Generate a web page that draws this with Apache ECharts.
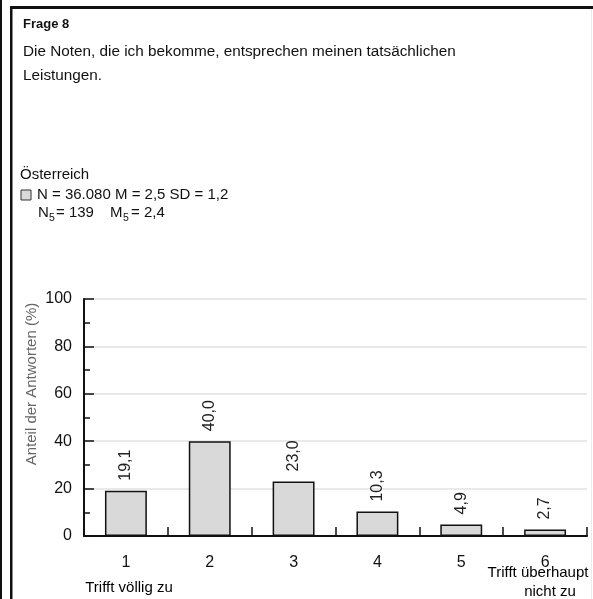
<!DOCTYPE html>
<html>
<head>
<meta charset="utf-8">
<script src="https://cdn.jsdelivr.net/npm/echarts@6/dist/echarts.min.js"></script>
<style>html,body{margin:0;padding:0;background:#fff;}#c{width:593px;height:599px;}</style>
</head>
<body>
<div id="c"></div>
<script>
var categories = ['1', '2', '3', '4', '5', '6'];
var values = [19.1, 40.0, 23.0, 10.3, 4.9, 2.7];
var yTicks = [0, 20, 40, 60, 80, 100];
var titleText = 'Frage 8';
var questionLines = ['Die Noten, die ich bekomme, entsprechen meinen tatsächlichen', 'Leistungen.'];
var countryText = 'Österreich';
var statsText = 'N = 36.080 M = 2,5 SD = 1,2';
var yName = 'Anteil der Antworten (%)';
var leftAnchor = 'Trifft völlig zu';
var rightAnchor = ['Trifft überhaupt', 'nicht zu'];

var FONT = '"Liberation Sans", Arial, sans-serif';
var chart = echarts.init(document.getElementById('c'), null, {renderer: 'canvas'});

function txt(x, y, text, size, opts) {
  opts = opts || {};
  return {
    type: 'text', x: x, y: y, rotation: opts.rotation || 0, z: 10,
    style: {
      text: text, fill: opts.color || '#111',
      font: (opts.weight || 'normal') + ' ' + size + 'px ' + FONT,
      textAlign: opts.align || 'left', textVerticalAlign: 'middle'
    }
  };
}

var option = {
  animation: false,
  backgroundColor: '#fff',
  grid: {left: 84, right: 6, top: 299, bottom: 63, containLabel: false},
  xAxis: {
    type: 'category',
    data: categories,
    axisLine: {lineStyle: {color: '#111', width: 2}},
    axisTick: {show: true, inside: true, length: 9, alignWithLabel: false, lineStyle: {color: '#111', width: 1.5}},
    axisLabel: {margin: 19, fontSize: 16, color: '#111', fontFamily: FONT},
    splitLine: {show: false}
  },
  yAxis: {
    type: 'value',
    min: yTicks[0], max: yTicks[yTicks.length - 1], interval: 20,
    axisLine: {show: true, lineStyle: {color: '#111', width: 2}},
    axisTick: {show: true, inside: true, length: 10, lineStyle: {color: '#111', width: 1.5}},
    minorTick: {show: true, splitNumber: 2, length: 6, lineStyle: {color: '#111', width: 1.5}},
    axisLabel: {margin: 12, fontSize: 16, color: '#111', fontFamily: FONT},
    splitLine: {show: true, lineStyle: {color: '#e2e2e2', width: 1.5}}
  },
  series: [{
    type: 'bar',
    data: values,
    barWidth: '50%',
    itemStyle: {color: '#d9d9d9', borderColor: '#111', borderWidth: 1.5},
    label: {
      show: true, position: 'top', rotate: 90, distance: 10,
      align: 'left', verticalAlign: 'middle',
      fontSize: 16, color: '#222', fontFamily: FONT,
      formatter: function (p) { return p.value.toFixed(1).replace('.', ','); }
    }
  }],
  graphic: [
    // frame
    {type: 'rect', shape: {x: 0, y: 0, width: 2, height: 599}, style: {fill: '#111'}},
    {type: 'rect', shape: {x: 10, y: 6, width: 2.5, height: 593}, style: {fill: '#111'}},
    {type: 'rect', shape: {x: 10, y: 6, width: 583, height: 3}, style: {fill: '#111'}},
    {type: 'rect', shape: {x: 591, y: 9, width: 1, height: 590}, style: {fill: '#ececec'}},
    txt(23, 24, titleText, 13, {weight: 'bold'}),
    txt(23, 52, questionLines[0], 15.3),
    txt(23, 76, questionLines[1], 15.3),
    txt(20, 175, countryText, 15),
    {type: 'rect', shape: {x: 21, y: 190, width: 10, height: 10}, style: {fill: '#d9d9d9', stroke: '#333', lineWidth: 1}},
    txt(37, 195, statsText, 15),
    txt(38, 213, 'N', 15),
    txt(49, 218, '5', 10.5),
    txt(56, 213, '= 139', 15),
    txt(110, 213, 'M', 15),
    txt(123, 218, '5', 10.5),
    txt(131, 213, '= 2,4', 15),
    txt(32, 384, yName, 15, {rotation: Math.PI / 2, align: 'center', color: '#666'}),
    txt(129, 588, leftAnchor, 15, {align: 'center', color: '#000'}),
    txt(538, 573, rightAnchor[0], 15, {align: 'center', color: '#000'}),
    txt(550, 592, rightAnchor[1], 15, {align: 'center', color: '#000'})
  ]
};
chart.setOption(option);
</script>
</body>
</html>
